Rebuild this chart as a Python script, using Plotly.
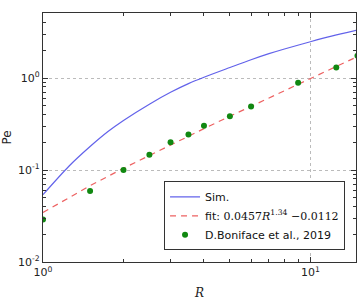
import plotly.graph_objects as go

# Data
R_sim = [1, 1.25, 1.5, 1.75, 2, 2.5, 3, 3.5, 4, 5, 6, 7, 8, 10, 12, 15]
Pe_sim = [0.054, 0.11, 0.18, 0.262, 0.346, 0.52, 0.70, 0.87, 1.02, 1.30, 1.58, 1.84, 2.07, 2.48, 2.85, 3.32]

R_fit = [1, 1.5, 2, 3, 4, 5, 6, 8, 10, 12, 15]
Pe_fit = [0.0345, 0.0675, 0.1045, 0.188, 0.2816, 0.384, 0.493, 0.730, 0.989, 1.265, 1.71]

R_exp = [1, 1.5, 2, 2.5, 3, 3.5, 4, 5, 6, 9, 12.5, 15]
Pe_exp = [0.029, 0.059, 0.100, 0.147, 0.20, 0.243, 0.303, 0.385, 0.49, 0.89, 1.30, 1.75]

x_tickvals = [1, 10]
x_ticktext = ["10<sup>0</sup>", "10<sup>1</sup>"]
y_tickvals = [0.01, 0.1, 1]
y_ticktext = ["10<sup>-2</sup>", "10<sup>-1</sup>", "10<sup>0</sup>"]

fig = go.Figure()
fig.add_trace(go.Scatter(x=R_sim, y=Pe_sim, mode="lines", name="Sim.",
                         line=dict(color="rgba(70,70,230,0.85)", width=1.2, shape="spline", smoothing=0.8)))
fig.add_trace(go.Scatter(x=R_fit, y=Pe_fit, mode="lines",
                         name="fit: <span style='font-family:DejaVu Serif'>0.0457<i>R</i><sup>1.34</sup> \u22120.0112</span>",
                         line=dict(color="rgba(235,80,80,0.9)", width=1.2, dash="6px,5px")))
fig.add_trace(go.Scatter(x=R_exp, y=Pe_exp, mode="markers", name="D.Boniface et al., 2019",
                         marker=dict(color="#118811", size=6, line=dict(width=0))))

minor_x = [2, 3, 4, 5, 6, 7, 8, 9]
minor_y = [v * m for v in [0.01, 0.1, 1] for m in range(2, 10)]

fig.update_xaxes(type="log", range=[0, 1.1707], tickvals=x_tickvals, ticktext=x_ticktext,
                 ticks="inside", ticklen=5, tickcolor="#333", mirror="allticks",
                 showline=True, linecolor="#333", linewidth=1.2,
                 showgrid=True, gridcolor="#bbbbbb", griddash="dot", gridwidth=1,
                 zeroline=False,
                 minor=dict(tickvals=minor_x, ticks="inside", ticklen=2.5, tickcolor="#333", showgrid=False),
                 tickfont=dict(family="DejaVu Sans", size=11, color="#222"),
                 title=dict(text="<i>R</i>", font=dict(family="DejaVu Serif", size=12, color="#222"), standoff=10))
fig.update_yaxes(type="log", range=[-2, 0.707], tickvals=y_tickvals, ticktext=y_ticktext,
                 ticks="inside", ticklen=5, tickcolor="#333", mirror="allticks",
                 showline=True, linecolor="#333", linewidth=1.2,
                 showgrid=True, gridcolor="#bbbbbb", griddash="dot", gridwidth=1,
                 zeroline=False,
                 minor=dict(tickvals=minor_y, ticks="inside", ticklen=2.5, tickcolor="#333", showgrid=False),
                 tickfont=dict(family="DejaVu Sans", size=11, color="#222"),
                 title=dict(text="Pe", font=dict(family="DejaVu Sans", size=12, color="#222"), standoff=6))

fig.update_layout(
    width=361, height=302,
    margin=dict(l=41, r=4, t=13, b=36),
    paper_bgcolor="white", plot_bgcolor="white",
    showlegend=True,
    legend=dict(x=0.965, xanchor="right", y=0.047, yanchor="bottom",
                bgcolor="white", bordercolor="#333", borderwidth=1,
                font=dict(family="DejaVu Sans", size=11, color="#111"),
                tracegroupgap=0, itemwidth=30),
)

fig.write_html("out.html")
